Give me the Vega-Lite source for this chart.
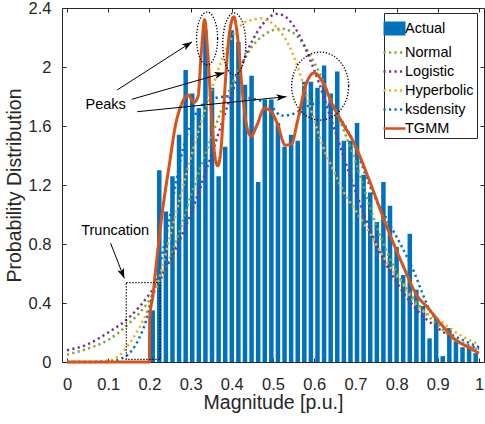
{
  "$schema": "https://vega.github.io/schema/vega-lite/v6.json",
  "width": 422,
  "height": 354,
  "autosize": {"type": "none"},
  "padding": {"left": 62, "top": 8, "right": 1, "bottom": 62},
  "background": "white",
  "config": {
    "view": {"stroke": "#262626", "strokeWidth": 1},
    "font": "Liberation Sans",
    "axis": {"labelFont": "Liberation Sans", "titleFont": "Liberation Sans", "labelColor": "#262626", "titleColor": "#262626", "tickColor": "#262626", "grid": false, "domain": false, "titleFontWeight": "normal", "labelFontSize": 16.5, "titleFontSize": 19.5, "labelFlush": false, "labelOverlap": false},
    "legend": {"orient": "none", "legendX": 322, "legendY": 5, "labelFont": "Liberation Sans", "labelFontSize": 14.5, "labelColor": "#000000", "symbolType": "stroke", "symbolSize": 484, "symbolStrokeWidth": 2.5, "symbolOffset": -5, "padding": 3, "rowPadding": -2.8, "labelOffset": -2, "strokeColor": "#262626", "fillColor": "white", "symbolOpacity": 1}
  },
  "datasets": {
    "hist": [
      {"x": 0.208, "y": 0.35, "s": "Actual"}, {"x": 0.224, "y": 1.30, "s": "Actual"}, {"x": 0.240, "y": 1.02, "s": "Actual"}, {"x": 0.256, "y": 1.26, "s": "Actual"}, {"x": 0.272, "y": 1.54, "s": "Actual"},
      {"x": 0.288, "y": 1.98, "s": "Actual"}, {"x": 0.304, "y": 1.82, "s": "Actual"}, {"x": 0.320, "y": 1.72, "s": "Actual"}, {"x": 0.336, "y": 2.25, "s": "Actual"}, {"x": 0.352, "y": 1.86, "s": "Actual"},
      {"x": 0.368, "y": 1.26, "s": "Actual"}, {"x": 0.384, "y": 1.46, "s": "Actual"}, {"x": 0.400, "y": 2.25, "s": "Actual"}, {"x": 0.416, "y": 2.17, "s": "Actual"}, {"x": 0.432, "y": 1.88, "s": "Actual"},
      {"x": 0.448, "y": 1.94, "s": "Actual"}, {"x": 0.464, "y": 1.22, "s": "Actual"}, {"x": 0.480, "y": 1.78, "s": "Actual"}, {"x": 0.496, "y": 1.78, "s": "Actual"}, {"x": 0.512, "y": 1.62, "s": "Actual"},
      {"x": 0.528, "y": 1.46, "s": "Actual"}, {"x": 0.544, "y": 1.54, "s": "Actual"}, {"x": 0.560, "y": 1.50, "s": "Actual"}, {"x": 0.576, "y": 1.90, "s": "Actual"}, {"x": 0.592, "y": 1.90, "s": "Actual"},
      {"x": 0.608, "y": 1.86, "s": "Actual"}, {"x": 0.624, "y": 2.01, "s": "Actual"}, {"x": 0.640, "y": 1.82, "s": "Actual"}, {"x": 0.656, "y": 1.97, "s": "Actual"}, {"x": 0.672, "y": 1.50, "s": "Actual"},
      {"x": 0.688, "y": 1.50, "s": "Actual"}, {"x": 0.704, "y": 1.62, "s": "Actual"}, {"x": 0.720, "y": 1.27, "s": "Actual"}, {"x": 0.736, "y": 1.15, "s": "Actual"}, {"x": 0.752, "y": 0.95, "s": "Actual"},
      {"x": 0.768, "y": 1.22, "s": "Actual"}, {"x": 0.784, "y": 1.06, "s": "Actual"}, {"x": 0.800, "y": 0.78, "s": "Actual"}, {"x": 0.816, "y": 0.59, "s": "Actual"}, {"x": 0.832, "y": 0.87, "s": "Actual"},
      {"x": 0.848, "y": 0.49, "s": "Actual"}, {"x": 0.864, "y": 0.38, "s": "Actual"}, {"x": 0.880, "y": 0.16, "s": "Actual"}, {"x": 0.896, "y": 0.30, "s": "Actual"}, {"x": 0.912, "y": 0.04, "s": "Actual"},
      {"x": 0.928, "y": 0.23, "s": "Actual"}, {"x": 0.944, "y": 0.14, "s": "Actual"}, {"x": 0.960, "y": 0.10, "s": "Actual"}, {"x": 0.976, "y": 0.10, "s": "Actual"}, {"x": 0.992, "y": 0.06, "s": "Actual"}
    ],
    "curves": [
      {"s": "Normal", "x": 0, "y": 0.05}, {"s": "Normal", "x": 0.05, "y": 0.09}, {"s": "Normal", "x": 0.1, "y": 0.15}, {"s": "Normal", "x": 0.15, "y": 0.26}, {"s": "Normal", "x": 0.2, "y": 0.42},
      {"s": "Normal", "x": 0.25, "y": 0.70}, {"s": "Normal", "x": 0.3, "y": 1.12}, {"s": "Normal", "x": 0.35, "y": 1.52}, {"s": "Normal", "x": 0.4, "y": 1.88}, {"s": "Normal", "x": 0.45, "y": 2.14},
      {"s": "Normal", "x": 0.5, "y": 2.25}, {"s": "Normal", "x": 0.52, "y": 2.26}, {"s": "Normal", "x": 0.55, "y": 2.23}, {"s": "Normal", "x": 0.6, "y": 2.03}, {"s": "Normal", "x": 0.65, "y": 1.72},
      {"s": "Normal", "x": 0.7, "y": 1.36}, {"s": "Normal", "x": 0.75, "y": 0.93}, {"s": "Normal", "x": 0.8, "y": 0.61}, {"s": "Normal", "x": 0.85, "y": 0.40}, {"s": "Normal", "x": 0.9, "y": 0.25},
      {"s": "Normal", "x": 0.95, "y": 0.14}, {"s": "Normal", "x": 1.0, "y": 0.08},
      {"s": "Logistic", "x": 0, "y": 0.08}, {"s": "Logistic", "x": 0.05, "y": 0.12}, {"s": "Logistic", "x": 0.1, "y": 0.20}, {"s": "Logistic", "x": 0.15, "y": 0.30}, {"s": "Logistic", "x": 0.2, "y": 0.46},
      {"s": "Logistic", "x": 0.25, "y": 0.69}, {"s": "Logistic", "x": 0.3, "y": 1.0}, {"s": "Logistic", "x": 0.35, "y": 1.40}, {"s": "Logistic", "x": 0.4, "y": 1.82}, {"s": "Logistic", "x": 0.45, "y": 2.18},
      {"s": "Logistic", "x": 0.475, "y": 2.29}, {"s": "Logistic", "x": 0.51, "y": 2.36}, {"s": "Logistic", "x": 0.525, "y": 2.35}, {"s": "Logistic", "x": 0.55, "y": 2.28}, {"s": "Logistic", "x": 0.6, "y": 1.98},
      {"s": "Logistic", "x": 0.65, "y": 1.57}, {"s": "Logistic", "x": 0.7, "y": 1.16}, {"s": "Logistic", "x": 0.75, "y": 0.80}, {"s": "Logistic", "x": 0.8, "y": 0.54}, {"s": "Logistic", "x": 0.85, "y": 0.35},
      {"s": "Logistic", "x": 0.9, "y": 0.23}, {"s": "Logistic", "x": 0.95, "y": 0.14}, {"s": "Logistic", "x": 1.0, "y": 0.09},
      {"s": "Hyperbolic", "x": 0, "y": 0.0}, {"s": "Hyperbolic", "x": 0.05, "y": 0.0}, {"s": "Hyperbolic", "x": 0.1, "y": 0.01}, {"s": "Hyperbolic", "x": 0.125, "y": 0.04}, {"s": "Hyperbolic", "x": 0.15, "y": 0.12},
      {"s": "Hyperbolic", "x": 0.175, "y": 0.23}, {"s": "Hyperbolic", "x": 0.2, "y": 0.38}, {"s": "Hyperbolic", "x": 0.225, "y": 0.58}, {"s": "Hyperbolic", "x": 0.25, "y": 0.85}, {"s": "Hyperbolic", "x": 0.275, "y": 1.12},
      {"s": "Hyperbolic", "x": 0.3, "y": 1.38}, {"s": "Hyperbolic", "x": 0.325, "y": 1.62}, {"s": "Hyperbolic", "x": 0.35, "y": 1.84}, {"s": "Hyperbolic", "x": 0.375, "y": 2.04}, {"s": "Hyperbolic", "x": 0.4, "y": 2.20},
      {"s": "Hyperbolic", "x": 0.425, "y": 2.29}, {"s": "Hyperbolic", "x": 0.45, "y": 2.32}, {"s": "Hyperbolic", "x": 0.47, "y": 2.33}, {"s": "Hyperbolic", "x": 0.49, "y": 2.31}, {"s": "Hyperbolic", "x": 0.515, "y": 2.25},
      {"s": "Hyperbolic", "x": 0.54, "y": 2.14}, {"s": "Hyperbolic", "x": 0.56, "y": 2.0}, {"s": "Hyperbolic", "x": 0.58, "y": 1.82}, {"s": "Hyperbolic", "x": 0.6, "y": 1.64}, {"s": "Hyperbolic", "x": 0.62, "y": 1.47},
      {"s": "Hyperbolic", "x": 0.645, "y": 1.31}, {"s": "Hyperbolic", "x": 0.67, "y": 1.16}, {"s": "Hyperbolic", "x": 0.7, "y": 1.03}, {"s": "Hyperbolic", "x": 0.725, "y": 0.92}, {"s": "Hyperbolic", "x": 0.75, "y": 0.80},
      {"s": "Hyperbolic", "x": 0.78, "y": 0.66}, {"s": "Hyperbolic", "x": 0.81, "y": 0.55}, {"s": "Hyperbolic", "x": 0.85, "y": 0.38}, {"s": "Hyperbolic", "x": 0.9, "y": 0.29}, {"s": "Hyperbolic", "x": 0.95, "y": 0.19},
      {"s": "Hyperbolic", "x": 1.0, "y": 0.12},
      {"s": "ksdensity", "x": 0, "y": 0.0}, {"s": "ksdensity", "x": 0.1, "y": 0.0}, {"s": "ksdensity", "x": 0.13, "y": 0.02}, {"s": "ksdensity", "x": 0.155, "y": 0.07}, {"s": "ksdensity", "x": 0.175, "y": 0.16},
      {"s": "ksdensity", "x": 0.192, "y": 0.28}, {"s": "ksdensity", "x": 0.209, "y": 0.47}, {"s": "ksdensity", "x": 0.232, "y": 0.74}, {"s": "ksdensity", "x": 0.25, "y": 0.99}, {"s": "ksdensity", "x": 0.268, "y": 1.27},
      {"s": "ksdensity", "x": 0.287, "y": 1.50}, {"s": "ksdensity", "x": 0.31, "y": 1.67}, {"s": "ksdensity", "x": 0.335, "y": 1.76}, {"s": "ksdensity", "x": 0.36, "y": 1.79}, {"s": "ksdensity", "x": 0.39, "y": 1.80},
      {"s": "ksdensity", "x": 0.415, "y": 1.80}, {"s": "ksdensity", "x": 0.44, "y": 1.79}, {"s": "ksdensity", "x": 0.47, "y": 1.77}, {"s": "ksdensity", "x": 0.5, "y": 1.72}, {"s": "ksdensity", "x": 0.52, "y": 1.67},
      {"s": "ksdensity", "x": 0.547, "y": 1.68}, {"s": "ksdensity", "x": 0.58, "y": 1.73}, {"s": "ksdensity", "x": 0.618, "y": 1.76}, {"s": "ksdensity", "x": 0.64, "y": 1.73}, {"s": "ksdensity", "x": 0.655, "y": 1.68},
      {"s": "ksdensity", "x": 0.675, "y": 1.60}, {"s": "ksdensity", "x": 0.69, "y": 1.52}, {"s": "ksdensity", "x": 0.71, "y": 1.38}, {"s": "ksdensity", "x": 0.74, "y": 1.16}, {"s": "ksdensity", "x": 0.78, "y": 0.95},
      {"s": "ksdensity", "x": 0.813, "y": 0.78}, {"s": "ksdensity", "x": 0.844, "y": 0.60}, {"s": "ksdensity", "x": 0.865, "y": 0.45}, {"s": "ksdensity", "x": 0.879, "y": 0.36}, {"s": "ksdensity", "x": 0.903, "y": 0.27},
      {"s": "ksdensity", "x": 0.927, "y": 0.20}, {"s": "ksdensity", "x": 0.96, "y": 0.15}, {"s": "ksdensity", "x": 1.0, "y": 0.10}
    ],
    "tgmm": [
      {"s": "TGMM", "x": 0, "y": 0}, {"s": "TGMM", "x": 0.2, "y": 0}, {"s": "TGMM", "x": 0.2008, "y": 0.30}, {"s": "TGMM", "x": 0.2085, "y": 0.45}, {"s": "TGMM", "x": 0.215, "y": 0.62},
      {"s": "TGMM", "x": 0.232, "y": 1.03}, {"s": "TGMM", "x": 0.249, "y": 1.35}, {"s": "TGMM", "x": 0.263, "y": 1.60}, {"s": "TGMM", "x": 0.28, "y": 1.76}, {"s": "TGMM", "x": 0.294, "y": 1.81},
      {"s": "TGMM", "x": 0.308, "y": 1.76}, {"s": "TGMM", "x": 0.318, "y": 1.80}, {"s": "TGMM", "x": 0.326, "y": 2.10}, {"s": "TGMM", "x": 0.334, "y": 2.32}, {"s": "TGMM", "x": 0.342, "y": 2.08},
      {"s": "TGMM", "x": 0.35, "y": 1.70}, {"s": "TGMM", "x": 0.358, "y": 1.42}, {"s": "TGMM", "x": 0.366, "y": 1.33}, {"s": "TGMM", "x": 0.374, "y": 1.45}, {"s": "TGMM", "x": 0.382, "y": 1.80},
      {"s": "TGMM", "x": 0.393, "y": 2.20}, {"s": "TGMM", "x": 0.405, "y": 2.34}, {"s": "TGMM", "x": 0.415, "y": 2.18}, {"s": "TGMM", "x": 0.425, "y": 1.85}, {"s": "TGMM", "x": 0.435, "y": 1.62},
      {"s": "TGMM", "x": 0.447, "y": 1.53}, {"s": "TGMM", "x": 0.46, "y": 1.60}, {"s": "TGMM", "x": 0.48, "y": 1.72}, {"s": "TGMM", "x": 0.495, "y": 1.70}, {"s": "TGMM", "x": 0.51, "y": 1.62},
      {"s": "TGMM", "x": 0.53, "y": 1.47}, {"s": "TGMM", "x": 0.545, "y": 1.48}, {"s": "TGMM", "x": 0.56, "y": 1.64}, {"s": "TGMM", "x": 0.58, "y": 1.88}, {"s": "TGMM", "x": 0.6, "y": 1.96},
      {"s": "TGMM", "x": 0.62, "y": 1.90}, {"s": "TGMM", "x": 0.645, "y": 1.74}, {"s": "TGMM", "x": 0.675, "y": 1.59}, {"s": "TGMM", "x": 0.694, "y": 1.50}, {"s": "TGMM", "x": 0.734, "y": 1.23},
      {"s": "TGMM", "x": 0.773, "y": 0.94}, {"s": "TGMM", "x": 0.813, "y": 0.67}, {"s": "TGMM", "x": 0.852, "y": 0.44}, {"s": "TGMM", "x": 0.875, "y": 0.37}, {"s": "TGMM", "x": 0.91, "y": 0.25},
      {"s": "TGMM", "x": 0.943, "y": 0.15}, {"s": "TGMM", "x": 0.974, "y": 0.10}, {"s": "TGMM", "x": 1.0, "y": 0.06}
    ],
    "ellipses": [
      {"id": "e1", "x": 0.340, "y": 2.193},
      {"id": "e2", "x": 0.406, "y": 2.156},
      {"id": "e3", "x": 0.6145, "y": 1.871}
    ],
    "boxes": [
      {"x": 0.144, "x2": 0.226, "y": 0.018, "y2": 0.538}
    ],
    "arrows": [
      {"id": "a1", "x": 0.1216, "y": 1.844, "x2": 0.3033, "y2": 2.170},
      {"id": "a2", "x": 0.1571, "y": 1.781, "x2": 0.3822, "y2": 1.961},
      {"id": "a3", "x": 0.1706, "y": 1.697, "x2": 0.5325, "y2": 1.799},
      {"id": "a4", "x": 0.1059, "y": 0.805, "x2": 0.1391, "y2": 0.567}
    ],
    "labels": [
      {"label": "Peaks", "x": 0.094, "y": 1.743},
      {"label": "Truncation", "x": 0.117, "y": 0.888}
    ]
  },
  "encoding": {
    "x": {"field": "x", "type": "quantitative", "scale": {"domain": [0, 1], "nice": false, "zero": false}, "axis": null},
    "y": {"field": "y", "type": "quantitative", "scale": {"domain": [0, 2.4], "nice": false, "zero": false}, "axis": null}
  },
  "layer": [
    {
      "data": {"name": "hist"},
      "mark": {"type": "bar", "size": 4.5},
      "encoding": {
        "x": {"field": "x", "type": "quantitative", "scale": {"domain": [0, 1], "nice": false, "zero": false},
          "axis": {"orient": "bottom", "values": [0, 0.1, 0.2, 0.3, 0.4, 0.5, 0.6, 0.7, 0.8, 0.9, 1], "format": "~g", "title": "Magnitude [p.u.]", "offset": -4, "tickSize": 4, "labelPadding": 14, "titlePadding": 1}},
        "y": {"field": "y", "type": "quantitative", "scale": {"domain": [0, 2.4], "nice": false, "zero": false},
          "axis": {"orient": "left", "values": [0, 0.4, 0.8, 1.2, 1.6, 2, 2.4], "format": "~g", "title": "Probability Distribution", "offset": -4, "tickSize": 4, "labelPadding": 11, "titlePadding": 4}},
        "color": {"field": "s", "type": "nominal", "title": null,
          "scale": {"domain": ["Actual", "Normal", "Logistic", "Hyperbolic", "ksdensity", "TGMM"], "range": ["#0072BD", "#77AC30", "#7E2F8E", "#EDB120", "#0072BD", "#D95319"]},
          "legend": {"title": null, "symbolType": "stroke", "strokeColor": "#262626", "fillColor": "white", "encoding": {"symbols": {"shape": {"value": {"expr": "datum.value === 'Actual' ? 'M -0.886 -0.523 L 0.886 -0.523 L 0.886 0.523 L -0.886 0.523 Z' : 'stroke'"}}, "fill": {"value": {"expr": "datum.value === 'Actual' ? '#0072BD' : 'transparent'"}}, "strokeCap": {"value": "butt"}}}}}
      }
    },
    {
      "data": {"name": "curves"},
      "mark": {"type": "line", "strokeWidth": 2.5, "strokeCap": "butt", "interpolate": "monotone"},
      "encoding": {
        "color": {"field": "s", "type": "nominal", "title": null,
          "scale": {"domain": ["Actual", "Normal", "Logistic", "Hyperbolic", "ksdensity", "TGMM"], "range": ["#0072BD", "#77AC30", "#7E2F8E", "#EDB120", "#0072BD", "#D95319"]},
          "legend": {"title": null, "symbolType": "stroke", "strokeColor": "#262626", "fillColor": "white", "encoding": {"symbols": {"shape": {"value": {"expr": "datum.value === 'Actual' ? 'M -0.886 -0.523 L 0.886 -0.523 L 0.886 0.523 L -0.886 0.523 Z' : 'stroke'"}}, "fill": {"value": {"expr": "datum.value === 'Actual' ? '#0072BD' : 'transparent'"}}, "strokeCap": {"value": "butt"}}}}},
        "strokeDash": {"field": "s", "type": "nominal", "title": null,
          "scale": {"domain": ["Actual", "Normal", "Logistic", "Hyperbolic", "ksdensity", "TGMM"], "range": [[1, 0], [2.2, 3.3], [2.2, 3.3], [2.2, 3.3], [2.2, 3.3], [1, 0]]},
          "legend": {"title": null, "symbolType": "stroke", "strokeColor": "#262626", "fillColor": "white", "encoding": {"symbols": {"shape": {"value": {"expr": "datum.value === 'Actual' ? 'M -0.886 -0.523 L 0.886 -0.523 L 0.886 0.523 L -0.886 0.523 Z' : 'stroke'"}}, "fill": {"value": {"expr": "datum.value === 'Actual' ? '#0072BD' : 'transparent'"}}, "strokeCap": {"value": "butt"}}}}}
      }
    },
    {
      "data": {"name": "tgmm"},
      "mark": {"type": "line", "strokeWidth": 3, "interpolate": "monotone"},
      "encoding": {
        "color": {"field": "s", "type": "nominal", "title": null,
          "scale": {"domain": ["Actual", "Normal", "Logistic", "Hyperbolic", "ksdensity", "TGMM"], "range": ["#0072BD", "#77AC30", "#7E2F8E", "#EDB120", "#0072BD", "#D95319"]},
          "legend": {"title": null, "symbolType": "stroke", "strokeColor": "#262626", "fillColor": "white", "encoding": {"symbols": {"shape": {"value": {"expr": "datum.value === 'Actual' ? 'M -0.886 -0.523 L 0.886 -0.523 L 0.886 0.523 L -0.886 0.523 Z' : 'stroke'"}}, "fill": {"value": {"expr": "datum.value === 'Actual' ? '#0072BD' : 'transparent'"}}, "strokeCap": {"value": "butt"}}}}},
        "strokeDash": {"field": "s", "type": "nominal", "title": null,
          "scale": {"domain": ["Actual", "Normal", "Logistic", "Hyperbolic", "ksdensity", "TGMM"], "range": [[1, 0], [2.2, 3.3], [2.2, 3.3], [2.2, 3.3], [2.2, 3.3], [1, 0]]},
          "legend": {"title": null, "symbolType": "stroke", "strokeColor": "#262626", "fillColor": "white", "encoding": {"symbols": {"shape": {"value": {"expr": "datum.value === 'Actual' ? 'M -0.886 -0.523 L 0.886 -0.523 L 0.886 0.523 L -0.886 0.523 Z' : 'stroke'"}}, "fill": {"value": {"expr": "datum.value === 'Actual' ? '#0072BD' : 'transparent'"}}, "strokeCap": {"value": "butt"}}}}}
      }
    },
    {
      "data": {"name": "boxes"},
      "mark": {"type": "rect", "fill": "transparent", "stroke": "black", "strokeWidth": 1.3, "strokeDash": [1.3, 1.7]},
      "encoding": {
        "x2": {"field": "x2"},
        "y2": {"field": "y2"}
      }
    },
    {
      "data": {"name": "ellipses"},
      "mark": {"type": "point", "filled": false, "color": "black", "size": 4624, "strokeWidth": 1.3, "strokeDash": [1.3, 1.7], "opacity": 1},
      "encoding": {
        "x": {"field": "x", "type": "quantitative", "scale": {"domain": [0, 1], "nice": false, "zero": false},
          "axis": {"orient": "top", "values": [0, 0.1, 0.2, 0.3, 0.4, 0.5, 0.6, 0.7, 0.8, 0.9, 1], "labels": false, "title": null, "offset": -4, "tickSize": 4}},
        "y": {"field": "y", "type": "quantitative", "scale": {"domain": [0, 2.4], "nice": false, "zero": false},
          "axis": {"orient": "right", "values": [0, 0.4, 0.8, 1.2, 1.6, 2, 2.4], "labels": false, "title": null, "offset": -4, "tickSize": 4}},
        "shape": {"field": "id", "type": "nominal", "legend": null,
          "scale": {"domain": ["e1", "e2", "e3"], "range": [
            "M 0.309 0 C 0.309 0.4302 0.1707 0.779 0 0.779 C -0.1707 0.779 -0.309 0.4302 -0.309 0 C -0.309 -0.4302 -0.1707 -0.779 0 -0.779 C 0.1707 -0.779 0.309 -0.4302 0.309 0 Z",
            "M 0.338 0 C 0.338 0.5037 0.1867 0.912 0 0.912 C -0.1867 0.912 -0.338 0.5037 -0.338 0 C -0.338 -0.5037 -0.1867 -0.912 0 -0.912 C 0.1867 -0.912 0.338 -0.5037 0.338 0 Z",
            "M 0.838 0 C 0.838 0.5523 0.4628 1 0 1 C -0.4628 1 -0.838 0.5523 -0.838 0 C -0.838 -0.5523 -0.4628 -1 0 -1 C 0.4628 -1 0.838 -0.5523 0.838 0 Z"
          ]}}
      }
    },
    {
      "data": {"name": "arrows"},
      "mark": {"type": "rule", "color": "black", "strokeWidth": 1},
      "encoding": {
        "x2": {"field": "x2"},
        "y2": {"field": "y2"}
      }
    },
    {
      "data": {"name": "arrows"},
      "transform": [{"filter": "datum.id === 'a1'"}],
      "mark": {"type": "point", "shape": "M 0 0 L -1 -0.35 L -0.75 0 L -1 0.35 Z", "size": 400, "filled": true, "color": "black", "opacity": 1, "angle": 328},
      "encoding": {
        "x": {"field": "x2", "type": "quantitative", "scale": {"domain": [0, 1], "nice": false, "zero": false}, "axis": null},
        "y": {"field": "y2", "type": "quantitative", "scale": {"domain": [0, 2.4], "nice": false, "zero": false}, "axis": null}
      }
    },
    {
      "data": {"name": "arrows"},
      "transform": [{"filter": "datum.id === 'a2'"}],
      "mark": {"type": "point", "shape": "M 0 0 L -1 -0.35 L -0.75 0 L -1 0.35 Z", "size": 400, "filled": true, "color": "black", "opacity": 1, "angle": 344.4},
      "encoding": {
        "x": {"field": "x2", "type": "quantitative", "scale": {"domain": [0, 1], "nice": false, "zero": false}, "axis": null},
        "y": {"field": "y2", "type": "quantitative", "scale": {"domain": [0, 2.4], "nice": false, "zero": false}, "axis": null}
      }
    },
    {
      "data": {"name": "arrows"},
      "transform": [{"filter": "datum.id === 'a3'"}],
      "mark": {"type": "point", "shape": "M 0 0 L -1 -0.35 L -0.75 0 L -1 0.35 Z", "size": 400, "filled": true, "color": "black", "opacity": 1, "angle": 354.4},
      "encoding": {
        "x": {"field": "x2", "type": "quantitative", "scale": {"domain": [0, 1], "nice": false, "zero": false}, "axis": null},
        "y": {"field": "y2", "type": "quantitative", "scale": {"domain": [0, 2.4], "nice": false, "zero": false}, "axis": null}
      }
    },
    {
      "data": {"name": "arrows"},
      "transform": [{"filter": "datum.id === 'a4'"}],
      "mark": {"type": "point", "shape": "M 0 0 L -1 -0.35 L -0.75 0 L -1 0.35 Z", "size": 400, "filled": true, "color": "black", "opacity": 1, "angle": 68.2},
      "encoding": {
        "x": {"field": "x2", "type": "quantitative", "scale": {"domain": [0, 1], "nice": false, "zero": false}, "axis": null},
        "y": {"field": "y2", "type": "quantitative", "scale": {"domain": [0, 2.4], "nice": false, "zero": false}, "axis": null}
      }
    },
    {
      "data": {"name": "labels"},
      "mark": {"type": "text", "font": "Liberation Sans", "fontSize": 14.5, "color": "black", "align": "center", "baseline": "middle"},
      "encoding": {
        "text": {"field": "label"}
      }
    }
  ]
}
